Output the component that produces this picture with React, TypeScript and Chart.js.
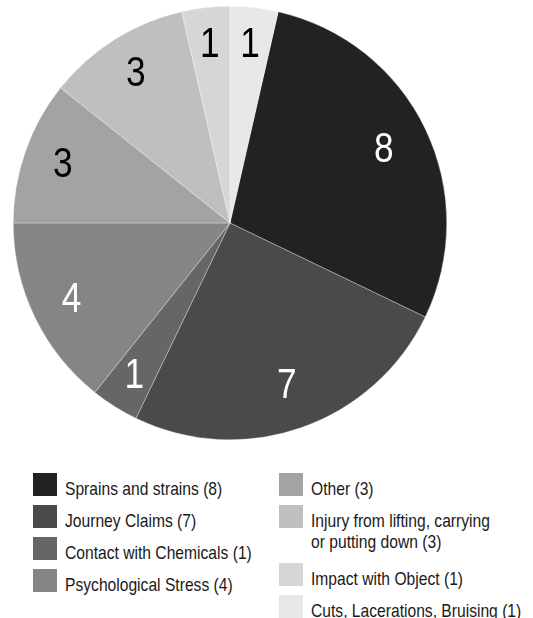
import React, { useEffect, useRef } from "react";
import { Chart, registerables } from "chart.js";

Chart.register(...registerables);

const categories = [
  "Sprains and strains",
  "Journey Claims",
  "Contact with Chemicals",
  "Psychological Stress",
  "Other",
  "Injury from lifting, carrying or putting down",
  "Impact with Object",
  "Cuts, Lacerations, Bruising",
];
const legendLines = [
  ["Sprains and strains (8)"],
  ["Journey Claims (7)"],
  ["Contact with Chemicals (1)"],
  ["Psychological Stress (4)"],
  ["Other (3)"],
  ["Injury from lifting, carrying", "or putting down (3)"],
  ["Impact with Object (1)"],
  ["Cuts, Lacerations, Bruising (1)"],
];
const counts = [8, 7, 1, 4, 3, 3, 1, 1];
const colors = ["#222222", "#4a4a4a", "#666666", "#858585", "#a3a3a3", "#bfbfbf", "#d6d6d6", "#e8e8e8"];
const labelColors = ["#ffffff", "#ffffff", "#ffffff", "#ffffff", "#000000", "#000000", "#000000", "#000000"];

const FONT = "'Liberation Sans', Arial, sans-serif";
// horizontal squeeze to get a condensed face out of a regular one
const NARROW = 0.82;

const sliceLabels = {
  id: "sliceLabels",
  afterDatasetsDraw(chart: any) {
    const ctx = chart.ctx;
    const meta = chart.getDatasetMeta(0);
    ctx.save();
    ctx.font = `43px ${FONT}`;
    ctx.textAlign = "center";
    ctx.textBaseline = "middle";
    meta.data.forEach((arc: any, i: number) => {
      const { x, y, startAngle, endAngle, outerRadius } = arc.getProps(
        ["x", "y", "startAngle", "endAngle", "outerRadius"],
        true
      );
      const mid = (startAngle + endAngle) / 2;
      // smaller slices get their number pushed a little further out
      const d = outerRadius * (0.835 - 0.006 * counts[i]);
      ctx.save();
      ctx.translate(x + Math.cos(mid) * d, y + Math.sin(mid) * d + 1);
      ctx.scale(NARROW, 1);
      ctx.fillStyle = labelColors[i];
      ctx.fillText(String(counts[i]), 0, 0);
      ctx.restore();
    });
    ctx.restore();
  },
};

export default function App() {
  const ref = useRef<HTMLCanvasElement>(null);

  useEffect(() => {
    document.body.style.margin = "0";
    const total = counts.reduce((a, b) => a + b, 0);
    const chart = new Chart(ref.current!, {
      type: "pie",
      data: {
        labels: categories,
        datasets: [
          {
            data: counts,
            backgroundColor: colors,
            borderColor: "rgba(255,255,255,0.6)",
            borderWidth: 0.5,
            hoverOffset: 0,
          },
        ],
      },
      options: {
        responsive: false,
        animation: false,
        rotation: (counts[counts.length - 1] / total) * 360,
        layout: { padding: 0 },
        plugins: {
          legend: { display: false },
          tooltip: { enabled: false },
        },
      },
      plugins: [sliceLabels],
    });
    return () => chart.destroy();
  }, []);

  const rowTops = [473, 505, 537, 569, 473, 505, 563, 595];

  return (
    <div style={{ position: "relative", width: 533, height: 618, background: "#fff", fontFamily: FONT }}>
      <canvas
        ref={ref}
        width={434}
        height={434}
        style={{ position: "absolute", left: 13, top: 6, width: 434, height: 434 }}
      />
      {legendLines.map((lines, i) => {
        const left = i < 4 ? 33 : 279;
        return (
          <div key={i} style={{ position: "absolute", left, top: rowTops[i] }}>
            <div
              style={{
                position: "absolute",
                left: 0,
                top: 0,
                width: 24,
                height: 23,
                background: colors[i],
              }}
            />
            <div
              style={{
                position: "absolute",
                left: 32,
                top: 5,
                fontSize: 18.5,
                lineHeight: "21px",
                color: "#1a1a1a",
                whiteSpace: "nowrap",
                transform: `scaleX(0.845)`,
                transformOrigin: "0 0",
              }}
            >
              {lines.map((t, j) => (
                <div key={j}>{t}</div>
              ))}
            </div>
          </div>
        );
      })}
    </div>
  );
}
